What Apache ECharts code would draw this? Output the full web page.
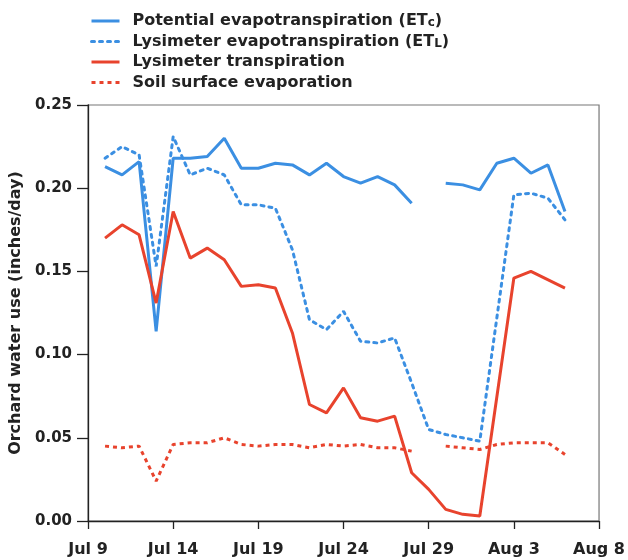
<!DOCTYPE html>
<html>
<head>
<meta charset="utf-8">
<script src="https://cdn.jsdelivr.net/npm/echarts@6/dist/echarts.min.js"></script>
<style>
  html, body { margin: 0; padding: 0; background: #fff; }
  #chart { width: 628px; height: 560px; }
</style>
</head>
<body>
<div id="chart"></div>
<script>
// Day offsets counted from Jul 9 (one reading per day, Jul 10 .. Aug 6)
const days = [1, 2, 3, 4, 5, 6, 7, 8, 9, 10, 11, 12, 13, 14, 15, 16, 17, 18, 19, 20, 21, 22, 23, 24, 25, 26, 27, 28];

// Orchard water use, inches/day (null = no reading)
const potentialET = [0.213, 0.208, 0.216, 0.114, 0.218, 0.218, 0.219, 0.230, 0.212, 0.212,
                     0.215, 0.214, 0.208, 0.215, 0.207, 0.203, 0.207, 0.202, 0.191, null,
                     0.203, 0.202, 0.199, 0.215, 0.218, 0.209, 0.214, 0.186];
const lysimeterET = [0.218, 0.225, 0.220, 0.153, 0.231, 0.208, 0.212, 0.208, 0.190, 0.190,
                     0.188, 0.163, 0.121, 0.115, 0.126, 0.108, 0.107, 0.110, 0.083, 0.055,
                     0.052, 0.050, 0.048, null, 0.196, 0.197, 0.194, 0.181];
const transpiration = [0.170, 0.178, 0.172, 0.131, 0.186, 0.158, 0.164, 0.157, 0.141, 0.142,
                       0.140, 0.113, 0.070, 0.065, 0.080, 0.062, 0.060, 0.063, 0.029, 0.019,
                       0.007, 0.004, 0.003, null, 0.146, 0.150, null, 0.140];
const soilEvap = [0.045, 0.044, 0.045, 0.024, 0.046, 0.047, 0.047, 0.050, 0.046, 0.045,
                  0.046, 0.046, 0.044, 0.046, 0.045, 0.046, 0.044, 0.044, 0.042, null,
                  0.045, 0.044, 0.043, 0.046, 0.047, 0.047, 0.047, 0.040];

// X tick labels every 5 days from Jul 9
const xTickLabels = ['Jul 9', 'Jul 14', 'Jul 19', 'Jul 24', 'Jul 29', 'Aug 3', 'Aug 8'];
const seriesNames = [
  'Potential evapotranspiration (ETc)',
  'Lysimeter evapotranspiration (ETL)',
  'Lysimeter transpiration',
  'Soil surface evaporation'
];

const BLUE = '#3b8fe2';
const RED = '#e8432d';
const FONT = '"DejaVu Sans", sans-serif';

function pairs(vals) {
  return days.map((d, i) => [d, vals[i] === null ? '-' : vals[i]]);
}

const chart = echarts.init(document.getElementById('chart'), null, { renderer: 'canvas' });

chart.setOption({
  animation: false,
  backgroundColor: '#ffffff',
  grid: {
    left: 88, right: 28, top: 105, bottom: 39,
    show: true, borderColor: '#777', borderWidth: 1.2
  },
  legend: {
    orient: 'vertical',
    left: 90, top: 13,
    padding: 0,
    itemWidth: 28, itemHeight: 14, itemGap: 4.5,
    data: seriesNames,
    itemStyle: { color: 'rgba(0,0,0,0)', borderWidth: 0, opacity: 0 },
    lineStyle: { width: 3 },
    formatter: function (name) {
      if (name.endsWith('(ETc)')) return name.replace('(ETc)', '(ET{s|c})');
      if (name.endsWith('(ETL)')) return name.replace('(ETL)', '(ET{s|L})');
      return name;
    },
    textStyle: {
      fontFamily: FONT, fontWeight: 'bold', fontSize: 16, color: '#222',
      padding: [0, 0, 0, 8],
      rich: {
        s: { fontFamily: FONT, fontWeight: 'bold', fontSize: 12, color: '#222', verticalAlign: 'bottom', padding: [3, 0, 0, 0] }
      }
    }
  },
  xAxis: {
    type: 'value',
    min: 0, max: 30, interval: 5,
    axisLine: { show: true, lineStyle: { color: '#222', width: 1.3 } },
    axisTick: { show: true, length: 8, lineStyle: { color: '#222', width: 1.3 } },
    splitLine: { show: false },
    axisLabel: {
      margin: 21,
      fontFamily: FONT, fontWeight: 'bold', fontSize: 16, color: '#222',
      formatter: function (v) { return xTickLabels[Math.round(v / 5)]; }
    }
  },
  yAxis: {
    type: 'value',
    min: 0, max: 0.25, interval: 0.05,
    name: 'Orchard water use (inches/day)',
    nameLocation: 'middle',
    nameGap: 60,
    nameTextStyle: { fontFamily: FONT, fontWeight: 'bold', fontSize: 16, color: '#222' },
    axisLine: { show: true, lineStyle: { color: '#222', width: 1.3 } },
    axisTick: { show: true, length: 11, lineStyle: { color: '#222', width: 1.3 } },
    splitLine: { show: false },
    axisLabel: {
      margin: 16,
      fontFamily: FONT, fontWeight: 'bold', fontSize: 15, color: '#222',
      formatter: function (v) { return v.toFixed(2); }
    }
  },
  series: [
    {
      name: seriesNames[0], type: 'line', symbol: 'none', connectNulls: false,
      lineStyle: { color: BLUE, width: 3 }, itemStyle: { color: BLUE },
      data: pairs(potentialET)
    },
    {
      name: seriesNames[1], type: 'line', symbol: 'none', connectNulls: true,
      lineStyle: { color: BLUE, width: 3, type: [3, 5], cap: 'round' }, itemStyle: { color: BLUE },
      data: pairs(lysimeterET).filter(p => p[1] !== '-')
    },
    {
      name: seriesNames[2], type: 'line', symbol: 'none', connectNulls: true,
      lineStyle: { color: RED, width: 3 }, itemStyle: { color: RED },
      data: pairs(transpiration).filter(p => p[1] !== '-')
    },
    {
      name: seriesNames[3], type: 'line', symbol: 'none', connectNulls: false,
      lineStyle: { color: RED, width: 3, type: [4, 4] }, itemStyle: { color: RED },
      data: pairs(soilEvap)
    }
  ]
});
</script>
</body>
</html>
